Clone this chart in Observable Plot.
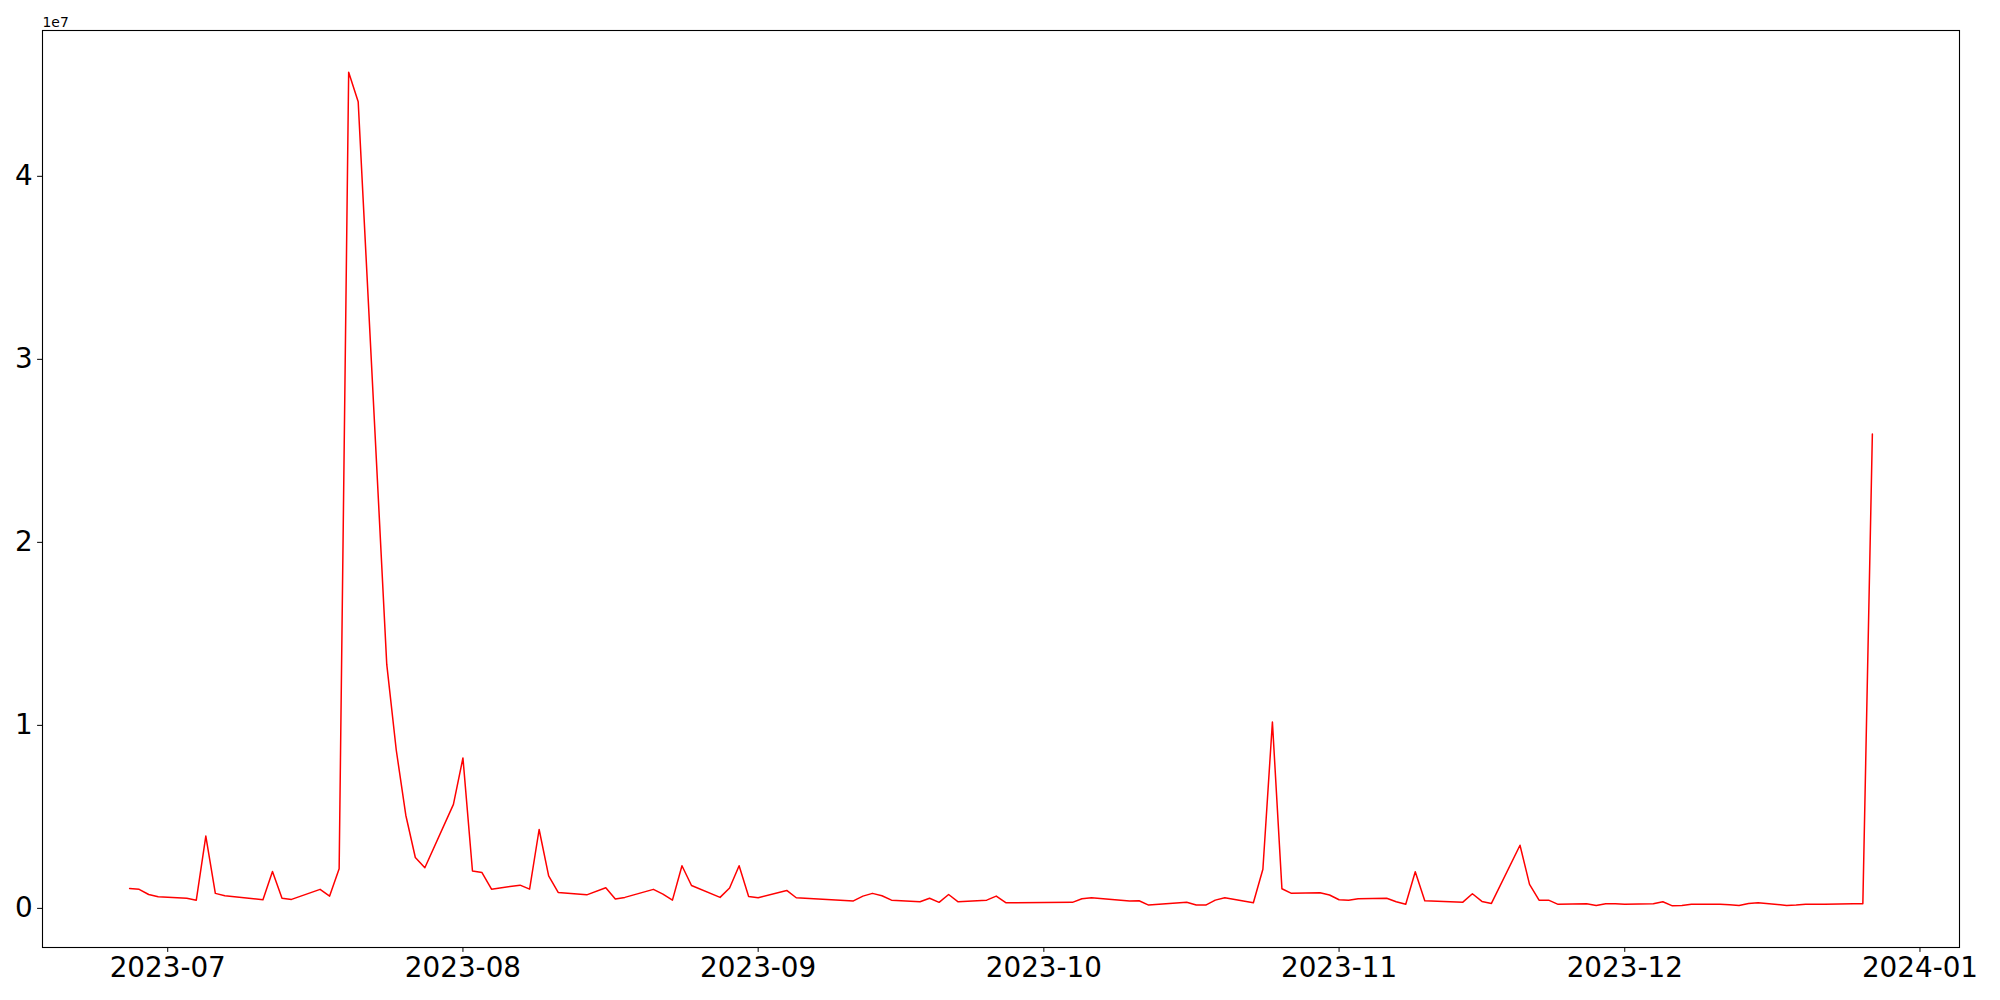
<!DOCTYPE html>
<html>
<head>
<meta charset="utf-8">
<script src="https://cdn.jsdelivr.net/npm/d3@7"></script>
<script src="https://cdn.jsdelivr.net/npm/@observablehq/plot@0.6"></script>
<style>
  html, body { margin: 0; padding: 0; background: #fff; }
  #chart svg { display: block; }
</style>
</head>
<body>
<div id="chart"></div>
<script>
// Dates (trading days) and values
const dates = [
  "2023-06-27","2023-06-28","2023-06-29","2023-06-30",
  "2023-07-03","2023-07-04","2023-07-05","2023-07-06","2023-07-07",
  "2023-07-11","2023-07-12","2023-07-13","2023-07-14",
  "2023-07-17","2023-07-18","2023-07-19","2023-07-20","2023-07-21",
  "2023-07-24","2023-07-25","2023-07-26","2023-07-27","2023-07-28",
  "2023-07-31","2023-08-01","2023-08-02","2023-08-03","2023-08-04",
  "2023-08-07","2023-08-08","2023-08-09","2023-08-10","2023-08-11",
  "2023-08-14","2023-08-16","2023-08-17","2023-08-18",
  "2023-08-21","2023-08-22","2023-08-23","2023-08-24","2023-08-25",
  "2023-08-28","2023-08-29","2023-08-30","2023-08-31","2023-09-01",
  "2023-09-04","2023-09-05",
  "2023-09-11","2023-09-12","2023-09-13","2023-09-14","2023-09-15",
  "2023-09-18","2023-09-19","2023-09-20","2023-09-21","2023-09-22",
  "2023-09-25","2023-09-26","2023-09-27",
  "2023-10-04","2023-10-05","2023-10-06",
  "2023-10-10","2023-10-11","2023-10-12",
  "2023-10-16","2023-10-17","2023-10-18","2023-10-19","2023-10-20",
  "2023-10-23","2023-10-24","2023-10-25","2023-10-26","2023-10-27",
  "2023-10-30","2023-10-31","2023-11-01","2023-11-02","2023-11-03",
  "2023-11-06","2023-11-07","2023-11-08","2023-11-09","2023-11-10",
  "2023-11-14","2023-11-15","2023-11-16","2023-11-17",
  "2023-11-20","2023-11-21","2023-11-22","2023-11-23","2023-11-24",
  "2023-11-27","2023-11-28","2023-11-29","2023-11-30","2023-12-01",
  "2023-12-04","2023-12-05","2023-12-06","2023-12-07","2023-12-08",
  "2023-12-11","2023-12-12","2023-12-13","2023-12-14","2023-12-15",
  "2023-12-18","2023-12-19","2023-12-20","2023-12-21","2023-12-22",
  "2023-12-25","2023-12-26","2023-12-27"
];
const values = [
  1090000,1040000,760000,630000,
  550000,450000,3950000,820000,690000,
  470000,2020000,550000,490000,
  1040000,670000,2160000,45690000,44070000,
  13330000,8640000,5090000,2780000,2220000,
  5680000,8220000,2040000,1960000,1050000,
  1270000,1050000,4310000,1780000,870000,
  740000,1130000,510000,600000,
  1040000,780000,450000,2330000,1250000,
  600000,1110000,2330000,650000,580000,
  980000,580000,
  410000,670000,820000,690000,450000,
  360000,550000,330000,760000,360000,
  450000,670000,310000,
  330000,530000,580000,
  400000,420000,180000,
  330000,180000,180000,450000,580000,
  310000,2140000,10180000,1070000,820000,
  850000,730000,470000,450000,530000,
  550000,360000,230000,2000000,420000,
  340000,800000,380000,270000,
  3450000,1310000,450000,450000,220000,
  250000,160000,250000,250000,220000,
  250000,360000,140000,160000,230000,
  230000,200000,160000,270000,310000,
  160000,180000,220000,220000,230000,
  250000,250000,25920000
];
const xTicks = ["2023-07-01","2023-08-01","2023-09-01","2023-10-01","2023-11-01","2023-12-01","2024-01-01"];
const yTicks = [0, 1e7, 2e7, 3e7, 4e7];
const offsetLabel = ["1e7"];

const data = dates.map((d, i) => ({date: new Date(d), value: values[i]}));

// matplotlib-style 5% margins
const [x0, x1] = d3.extent(data, d => +d.date);
const [y0, y1] = d3.extent(data, d => d.value);
const xPad = (x1 - x0) * 0.05, yPad = (y1 - y0) * 0.05;

const chart = Plot.plot({
  width: 2000,
  height: 1000,
  marginLeft: 42,
  marginRight: 41,
  marginTop: 30,
  marginBottom: 53,
  style: {fontFamily: "DejaVu Sans", fontSize: "27.8px", background: "white", color: "black", overflow: "visible"},
  x: {
    type: "utc",
    domain: [new Date(x0 - xPad), new Date(x1 + xPad)],
    ticks: xTicks.map(d => new Date(d)),
    tickFormat: d3.utcFormat("%Y-%m"),
    tickSize: 4.9,
    tickPadding: 4.9,
    label: null
  },
  y: {
    domain: [y0 - yPad, y1 + yPad],
    ticks: yTicks,
    tickFormat: d => String(d / 1e7),
    tickSize: 4.9,
    tickPadding: 4.9,
    label: null
  },
  marks: [
    Plot.line(data, {x: "date", y: "value", stroke: "red", strokeWidth: 1.5}),
    Plot.frame({stroke: "black", strokeWidth: 1.1}),
    Plot.text(offsetLabel, {frameAnchor: "top-left", text: d => d, textAnchor: "start", lineAnchor: "bottom", fontSize: 13.9, dy: -4})
  ]
});
document.getElementById("chart").appendChild(chart);
</script>
</body>
</html>
